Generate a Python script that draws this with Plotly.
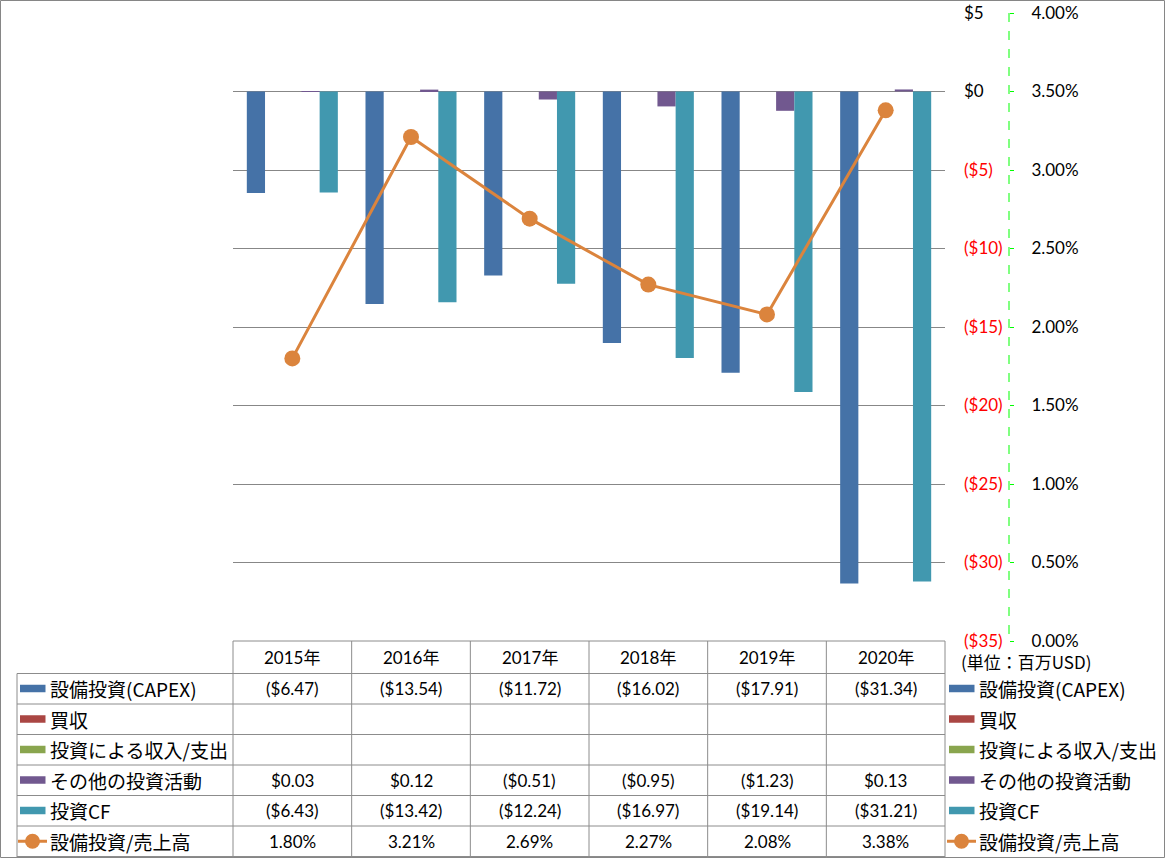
import plotly.graph_objects as go

W, H = 1165, 858

years = ["2015年", "2016年", "2017年", "2018年", "2019年", "2020年"]
capex = [-6.47, -13.54, -11.72, -16.02, -17.91, -31.34]
acquisitions = [None, None, None, None, None, None]
invest_income = [None, None, None, None, None, None]
other_invest = [0.03, 0.12, -0.51, -0.95, -1.23, 0.13]
invest_cf = [-6.43, -13.42, -12.24, -16.97, -19.14, -31.21]
capex_ratio = [1.80, 3.21, 2.69, 2.27, 2.08, 3.38]

left_ticks = [5, 0, -5, -10, -15, -20, -25, -30, -35]
right_ticks = [0.0, 0.5, 1.0, 1.5, 2.0, 2.5, 3.0, 3.5, 4.0]

names = ["設備投資(CAPEX)", "買収", "投資による収入/支出", "その他の投資活動", "投資CF", "設備投資/売上高"]
colors = ["#4572A7", "#AA4643", "#89A54E", "#71588F", "#4198AF", "#DB843D"]
bar_series = [capex, acquisitions, invest_income, other_invest, invest_cf]

NUM_FONT = "Lato, 'Noto Sans CJK JP', sans-serif"
JP_FONT = "'Noto Sans CJK JP', sans-serif"


def px(x):
    return x / W


def py(y):
    return 1 - y / H


def money(v):
    if v is None:
        return ""
    if v < 0:
        return "($%.2f)" % (-v)
    return "$%.2f" % v


def money_tick(v):
    if v < 0:
        return "<span style='color:#FF0000'>($%d)</span>" % (-v)
    return "$%d" % v


fig = go.Figure()
for name, vals, col in zip(names[:5], bar_series, colors[:5]):
    fig.add_trace(go.Bar(x=years, y=vals, name=name, marker=dict(color=col, line=dict(width=0)),
                         showlegend=False))
fig.add_trace(go.Scatter(x=years, y=capex_ratio, name=names[5], yaxis="y2", mode="lines+markers",
                         line=dict(color=colors[5], width=3),
                         marker=dict(color=colors[5], size=16), showlegend=False))

x0, x1 = 233, 945
y_top, y_bot = 13, 641

fig.update_layout(
    template="none",
    width=W, height=H, autosize=False,
    margin=dict(l=0, r=0, t=0, b=0, pad=0, autoexpand=False),
    paper_bgcolor="white", plot_bgcolor="white",
    barmode="group", bargap=0.233, bargroupgap=0,
    xaxis=dict(domain=[px(x0), px(x1)], showticklabels=False, showgrid=False, showline=False,
               zeroline=False, ticks="", automargin=False),
    yaxis=dict(domain=[py(y_bot), py(y_top)], side="right", range=[-35, 5],
               tickvals=left_ticks, ticktext=[money_tick(v) for v in left_ticks],
               showgrid=True, gridcolor="#878787", gridwidth=1, zeroline=False, showline=False,
               ticks="", ticklabelstandoff=18, automargin=False,
               tickfont=dict(family=NUM_FONT, size=17, color="#000000")),
    yaxis2=dict(overlaying="y", anchor="free", position=px(1009), side="right", range=[0, 4],
                tickvals=right_ticks, ticktext=["%.2f%%" % v for v in right_ticks],
                showgrid=False, zeroline=False, showline=False,
                ticks="outside", ticklen=4, tickcolor="#00FF00", tickwidth=1,
                ticklabelstandoff=14, automargin=False,
                tickfont=dict(family=NUM_FONT, size=17, color="#000000")),
    font=dict(family=NUM_FONT),
)

shapes = []
annotations = []
line_col = "#8C8C8C"

# outer border
shapes.append(dict(type="rect", xref="paper", yref="paper", x0=px(0.5), x1=px(W - 0.5),
                   y0=py(H - 0.5), y1=py(0.5), line=dict(color="#868686", width=1)))
# green dashed secondary axis line
shapes.append(dict(type="line", xref="paper", yref="paper", x0=px(1009), x1=px(1009),
                   y0=py(y_top), y1=py(y_bot), line=dict(color="#00FF00", width=1, dash="dash")))

col_w = (x1 - x0) / len(years)
cols = [x0 + i * col_w for i in range(len(years) + 1)]
row_h = 30.5
rows = [673.5 + k * row_h for k in range(7)]

# table horizontal lines
shapes.append(dict(type="line", xref="paper", yref="paper", x0=px(x0), x1=px(x1),
                   y0=py(y_bot), y1=py(y_bot), line=dict(color=line_col, width=1)))
for r in rows:
    shapes.append(dict(type="line", xref="paper", yref="paper", x0=px(17), x1=px(x1),
                       y0=py(r), y1=py(r), line=dict(color=line_col, width=1)))
# vertical lines
shapes.append(dict(type="line", xref="paper", yref="paper", x0=px(17), x1=px(17),
                   y0=py(rows[0]), y1=py(H), line=dict(color=line_col, width=1)))
for c in cols:
    shapes.append(dict(type="line", xref="paper", yref="paper", x0=px(c), x1=px(c),
                       y0=py(y_bot), y1=py(H), line=dict(color=line_col, width=1)))

# header
for i, yr in enumerate(years):
    annotations.append(dict(xref="paper", yref="paper", x=px(cols[i] + col_w / 2), y=py(657.5),
                            text=yr, showarrow=False, xanchor="center", yanchor="middle",
                            font=dict(family=NUM_FONT, size=17, color="#000000")))

table_rows = [[money(v) for v in s] for s in bar_series] + [["%.2f%%" % v for v in capex_ratio]]
for k, vals in enumerate(table_rows):
    cy = rows[k] + row_h / 2
    for i, t in enumerate(vals):
        if t:
            annotations.append(dict(xref="paper", yref="paper", x=px(cols[i] + col_w / 2), y=py(cy),
                                    text=t, showarrow=False, xanchor="center", yanchor="middle",
                                    font=dict(family=NUM_FONT, size=17, color="#000000")))


def legend_key(kx, cy, k):
    col = colors[k]
    if k < 5:
        shapes.append(dict(type="rect", xref="paper", yref="paper", x0=px(kx), x1=px(kx + 25.5),
                           y0=py(cy + 3.5), y1=py(cy - 4), fillcolor=col, line=dict(width=0)))
    else:
        shapes.append(dict(type="line", xref="paper", yref="paper", x0=px(kx - 2), x1=px(kx + 27),
                           y0=py(cy), y1=py(cy), line=dict(color=col, width=3)))
        shapes.append(dict(type="circle", xref="paper", yref="paper", x0=px(kx + 12.5 - 7.5),
                           x1=px(kx + 12.5 + 7.5), y0=py(cy + 7.5), y1=py(cy - 7.5),
                           fillcolor=col, line=dict(width=0)))


for k, nm in enumerate(names):
    cy = rows[k] + row_h / 2
    legend_key(20, cy, k)
    annotations.append(dict(xref="paper", yref="paper", x=px(48), y=py(cy), text=nm,
                            showarrow=False, xanchor="left", yanchor="middle",
                            font=dict(family=JP_FONT, size=19, color="#000000")))
    legend_key(949, cy, k)
    annotations.append(dict(xref="paper", yref="paper", x=px(977), y=py(cy), text=nm,
                            showarrow=False, xanchor="left", yanchor="middle",
                            font=dict(family=JP_FONT, size=19, color="#000000")))

annotations.append(dict(xref="paper", yref="paper", x=px(959), y=py(661), text="(単位：百万USD)",
                        showarrow=False, xanchor="left", yanchor="middle",
                        font=dict(family=JP_FONT, size=17, color="#000000")))

fig.update_layout(shapes=shapes, annotations=annotations)
fig.write_html("out.html", config={"displayModeBar": False},
               post_script="document.body.style.margin='0';document.body.style.padding='0';"
                           "document.body.style.overflow='hidden';")
